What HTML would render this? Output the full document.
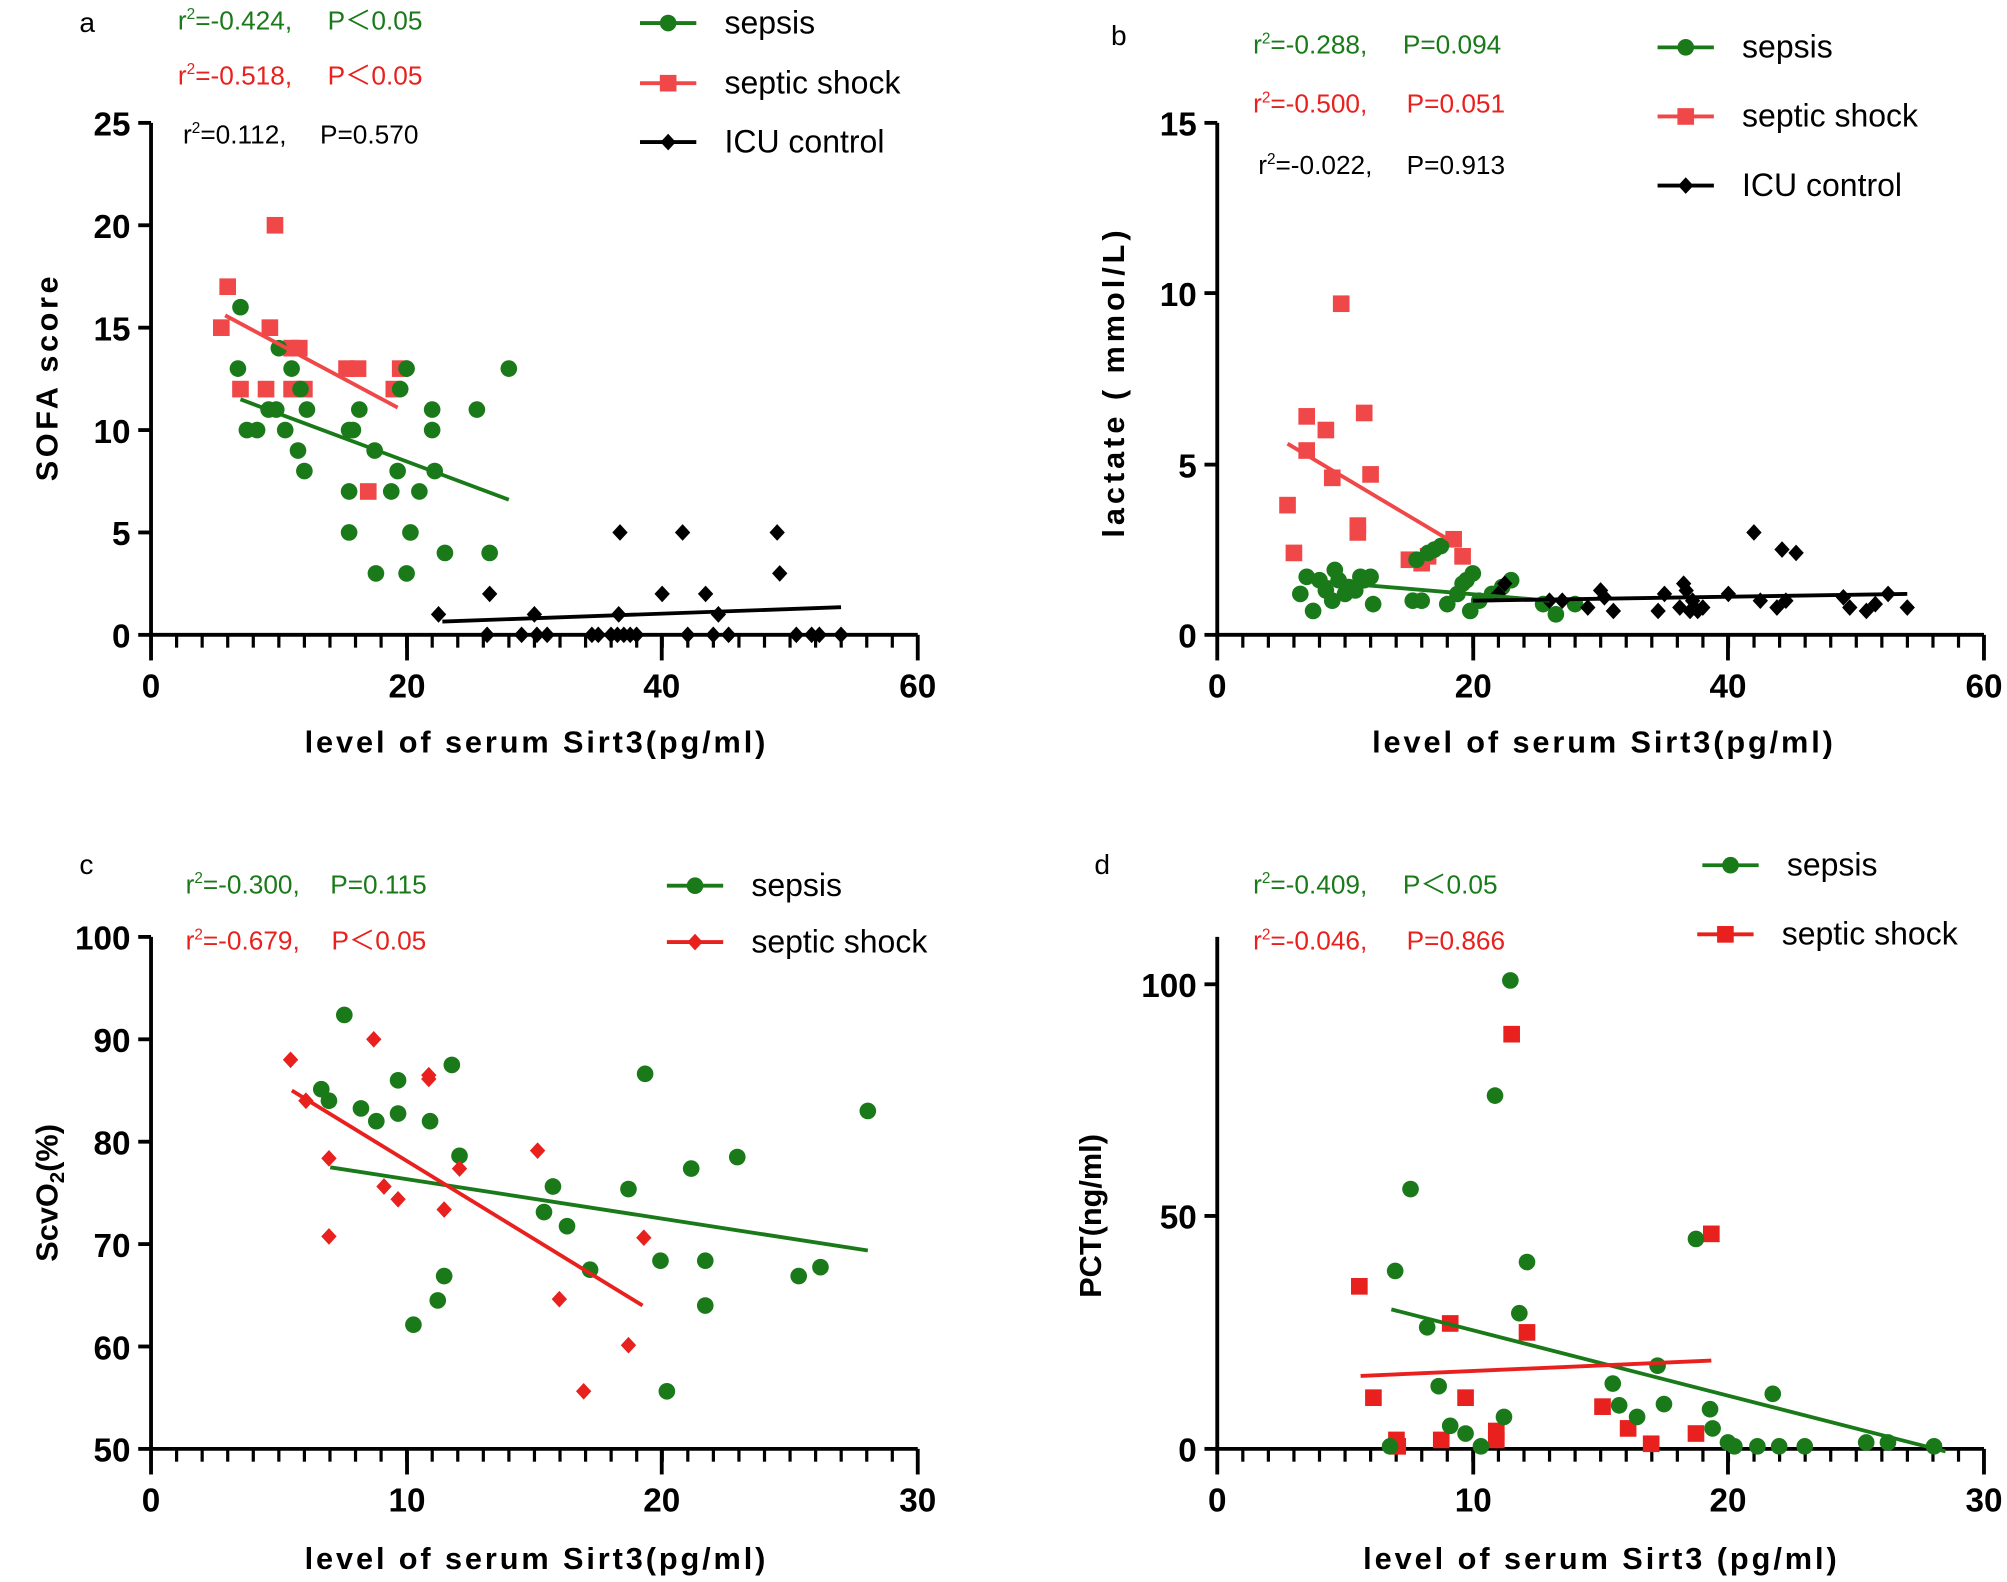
<!DOCTYPE html>
<html><head><meta charset="utf-8"><style>
html,body{margin:0;padding:0;background:#fff;}
svg{display:block;font-family:"Liberation Sans",Arial,sans-serif;}
.tk{font-weight:bold;font-size:26px;}
.tt{font-weight:bold;font-size:24px;}
.lg{font-size:25px;}
.st{font-size:20.5px;}
</style></head><body>
<svg id="s" width="2007" height="1582" viewBox="0 0 1568 1236" preserveAspectRatio="none" xmlns="http://www.w3.org/2000/svg">
<rect width="1568" height="1236" fill="#fff"/>
<g id="g"></g>
<text x="62" y="25" font-size="22">a</text>
<text x="868" y="35" font-size="22">b</text>
<text x="62" y="683" font-size="22">c</text>
<text x="855" y="683" font-size="22">d</text>
<text class="st" x="139" y="23" fill="#1a7a1a">r<tspan dy="-8" font-size="12">2</tspan><tspan dy="8">=-0.424,  </tspan><tspan x="256">P＜0.05</tspan></text>
<text class="st" x="139" y="66" fill="#e8201e">r<tspan dy="-8" font-size="12">2</tspan><tspan dy="8">=-0.518,  </tspan><tspan x="256">P＜0.05</tspan></text>
<text class="st" x="143" y="112" fill="#000">r<tspan dy="-8" font-size="12">2</tspan><tspan dy="8">=0.112,  </tspan><tspan x="250">P=0.570</tspan></text>
<text class="st" x="979" y="42" fill="#1a7a1a">r<tspan dy="-8" font-size="12">2</tspan><tspan dy="8">=-0.288,  </tspan><tspan x="1096">P=0.094</tspan></text>
<text class="st" x="979" y="88" fill="#e8201e">r<tspan dy="-8" font-size="12">2</tspan><tspan dy="8">=-0.500,  </tspan><tspan x="1099">P=0.051</tspan></text>
<text class="st" x="983" y="136" fill="#000">r<tspan dy="-8" font-size="12">2</tspan><tspan dy="8">=-0.022,  </tspan><tspan x="1099">P=0.913</tspan></text>
<text class="st" x="145" y="698" fill="#1a7a1a">r<tspan dy="-8" font-size="12">2</tspan><tspan dy="8">=-0.300,  </tspan><tspan x="258">P=0.115</tspan></text>
<text class="st" x="145" y="742" fill="#e8201e">r<tspan dy="-8" font-size="12">2</tspan><tspan dy="8">=-0.679,  </tspan><tspan x="259">P＜0.05</tspan></text>
<text class="st" x="979" y="698" fill="#1a7a1a">r<tspan dy="-8" font-size="12">2</tspan><tspan dy="8">=-0.409,  </tspan><tspan x="1096">P＜0.05</tspan></text>
<text class="st" x="979" y="742" fill="#e8201e">r<tspan dy="-8" font-size="12">2</tspan><tspan dy="8">=-0.046,  </tspan><tspan x="1099">P=0.866</tspan></text>
<text class="tt" x="418" y="588" text-anchor="middle" textLength="360">level of serum Sirt3(pg/ml)</text>
<text class="tt" x="1252" y="588" text-anchor="middle" textLength="360">level of serum Sirt3(pg/ml)</text>
<text class="tt" x="418" y="1226" text-anchor="middle" textLength="360">level of serum Sirt3(pg/ml)</text>
<text class="tt" x="1250" y="1226" text-anchor="middle" textLength="370">level of serum Sirt3 (pg/ml)</text>
<text class="tt" transform="translate(45,296) rotate(-90)" text-anchor="middle" textLength="160">SOFA score</text>
<text class="tt" transform="translate(878,300) rotate(-90)" text-anchor="middle" textLength="240">lactate ( mmol/L)</text>
<text class="tt" transform="translate(45,932) rotate(-90)" text-anchor="middle">ScvO<tspan font-size="16" dy="5">2</tspan><tspan dy="-5">(%)</tspan></text>
<text class="tt" transform="translate(860,950) rotate(-90)" text-anchor="middle">PCT(ng/ml)</text>
</svg>
<script>
const G=document.getElementById('g');const NS='http://www.w3.org/2000/svg';
function el(t,a,txt){const e=document.createElementNS(NS,t);for(const k in a)e.setAttribute(k,a[k]);if(txt!==undefined)e.textContent=txt;G.appendChild(e);return e;}
const GR='#1a7a1a',RD='#f04848',RD2='#e8201e',BK='#000';
function mk(type,x,y,c){
 if(type==='c')el('circle',{cx:x,cy:y,r:6.5,fill:c});
 else if(type==='s')el('rect',{x:x-6.5,y:y-6.5,width:13,height:13,fill:c});
 else el('polygon',{points:`${x},${y-6.5} ${x+6},${y} ${x},${y+6.5} ${x-6},${y}`,fill:c});
}
function axes(x0,x1,y0,y1,xt,xlab,yt,ylab,minorStep){
 el('line',{x1:x0,y1:y0,x2:x1,y2:y0,stroke:'#000','stroke-width':3});
 el('line',{x1:x0,y1:y0+1.5,x2:x0,y2:y1,stroke:'#000','stroke-width':3});
 xt.forEach((p,i)=>{el('line',{x1:p,y1:y0,x2:p,y2:y0+20,stroke:'#000','stroke-width':3});el('text',{x:p,y:y0+49,'text-anchor':'middle',class:'tk'},xlab[i]);});
 for(let p=x0;p<=x1+0.1;p+=minorStep)el('line',{x1:p,y1:y0,x2:p,y2:y0+10,stroke:'#000','stroke-width':2.5});
 yt.forEach((p,i)=>{el('line',{x1:x0-10,y1:p,x2:x0,y2:p,stroke:'#000','stroke-width':3});el('text',{x:x0-16,y:p+10,'text-anchor':'end',class:'tk'},ylab[i]);});
}
function line(a,b,c,d,col){el('line',{x1:a,y1:b,x2:c,y2:d,stroke:col,'stroke-width':3});}
function leg(x,y,type,col,txt){line(x,y,x+44,y,col);mk(type,x+22,y,col);el('text',{x:x+66,y:y+8,class:'lg'},txt);}
(function(){const X=v=>118+v*9.983,Y=v=>496-v*16;
 axes(118,717,496,96,[118,318,517,717],['0','20','40','60'],[496,416,336,256,176,96],['0','5','10','15','20','25'],19.97);
 const r=[[5.5,15],[6,17],[7,12],[9,12],[9.3,15],[9.7,20],[11,14],[11.6,14],[11,12],[12,12],[15.3,13],[16.2,13],[17,7],[19,12],[19.5,13]];
 const g=[[7,16],[6.8,13],[7.5,10],[8.3,10],[9.2,11],[9.8,11],[10,14],[10.5,10],[11,13],[11.5,9],[11.7,12],[12,8],[12.2,11],[15.5,10],[15.8,10],[15.5,7],[15.5,5],[16.3,11],[17.5,9],[17.6,3],[18.8,7],[19.3,8],[19.5,12],[20,13],[20,3],[20.3,5],[21,7],[22,11],[22,10],[22.2,8],[23,4],[25.5,11],[26.5,4],[28,13]];
 const k=[[22.5,1],[26.5,2],[26.3,0],[29,0],[30,1],[30.2,0],[31,0],[34.5,0],[35,0],[36,0],[36.5,0],[37,0],[36.7,5],[36.6,1],[37.5,0],[38,0],[40,2],[41.6,5],[42,0],[43.4,2],[44,0],[44.4,1],[45.2,0],[49,5],[49.2,3],[50.5,0],[51.7,0],[52.3,0],[54,0]];
 r.forEach(p=>mk('s',X(p[0]),Y(p[1]),RD));g.forEach(p=>mk('c',X(p[0]),Y(p[1]),GR));k.forEach(p=>mk('d',X(p[0]),Y(p[1]),BK));
 line(X(5.8),Y(15.6),X(19.3),Y(11.1),RD);line(X(7),Y(11.5),X(28),Y(6.6),GR);line(X(22.8),Y(0.65),X(54),Y(1.35),BK);
 leg(500,18,'c',GR,'sepsis');leg(500,65,'s',RD,'septic shock');leg(500,111,'d',BK,'ICU control');
})();
(function(){const X=v=>951+v*9.983,Y=v=>496-v*26.67;
 axes(951,1550,496,96,[951,1151,1350,1550],['0','20','40','60'],[496,363,229,96],['0','5','10','15'],19.97);
 const r=[[5.5,3.8],[6,2.4],[7,6.4],[7,5.4],[8.5,6],[9,4.6],[9.7,9.7],[11,3.2],[11,3],[11.5,6.5],[12,4.7],[15,2.2],[16,2.1],[16.5,2.3],[18.5,2.8],[19.2,2.3]];
 const g=[[6.5,1.2],[7,1.7],[7.5,0.7],[8,1.6],[8.5,1.3],[9,1.0],[9.2,1.9],[9.5,1.6],[10,1.2],[10.3,1.4],[10.8,1.3],[11.2,1.7],[11.5,1.6],[12,1.7],[12.2,0.9],[15.3,1.0],[15.6,2.2],[16,1.0],[16.5,2.4],[17,2.5],[17.5,2.6],[18,0.9],[18.8,1.2],[19.2,1.5],[19.5,1.6],[19.8,0.7],[20,1.8],[20.5,1.0],[21.5,1.2],[22.3,1.4],[23,1.6],[25.5,0.9],[26.5,0.6],[28,0.9]];
 const k=[[22,1.2],[22.5,1.5],[26,1.0],[27,1.0],[29,0.8],[30,1.3],[30.3,1.1],[31,0.7],[34.5,0.7],[35,1.2],[36.2,0.8],[36.5,1.5],[36.7,1.3],[37,0.7],[37.2,1.0],[37.6,0.7],[38,0.8],[40,1.2],[42,3.0],[42.5,1.0],[43.8,0.8],[44.2,2.5],[45.3,2.4],[44.5,1.0],[49,1.1],[49.5,0.8],[50.8,0.7],[51.5,0.9],[52.5,1.2],[54,0.8]];
 r.forEach(p=>mk('s',X(p[0]),Y(p[1]),RD));g.forEach(p=>mk('c',X(p[0]),Y(p[1]),GR));k.forEach(p=>mk('d',X(p[0]),Y(p[1]),BK));
 line(X(5.5),Y(5.6),X(18.5),Y(2.7),RD);line(X(7),Y(1.6),X(26),Y(1.0),GR);line(X(20),Y(1.0),X(54),Y(1.2),BK);
 leg(1295,37,'c',GR,'sepsis');leg(1295,91,'s',RD,'septic shock');leg(1295,145,'d',BK,'ICU control');
})();
(function(){
 axes(118,717,1132,732,[118,318,517,717],['0','10','20','30'],[1132,1052,972,892,812,732],['50','60','70','80','90','100'],19.97);
 const g=[[269,793],[251,851],[257,860],[282,866],[294,876],[311,844],[311,870],[323,1035],[336,876],[342,1016],[347,997],[353,832],[359,903],[425,947],[432,927],[443,958],[461,992],[491,929],[504,839],[516,985],[521,1087],[540,913],[551,985],[551,1020],[576,904],[624,997],[641,990],[678,868]];
 const r=[[227,828],[239,860],[257,905],[257,966],[292,812],[300,927],[311,937],[335,840],[335,843],[347,945],[359,913],[420,899],[437,1015],[456,1087],[491,1051],[503,967]];
 g.forEach(p=>mk('c',p[0],p[1],GR));r.forEach(p=>mk('d',p[0],p[1],RD2));
 line(258,912,678,977,GR);line(228,852,502,1020,RD2);
 leg(521,692,'c',GR,'sepsis');leg(521,736,'d',RD2,'septic shock');
})();
(function(){
 axes(951,1550,1132,732,[951,1151,1350,1550],['0','10','20','30'],[1132,950,769],['0','50','100'],19.97);
 const g=[[1180,766],[1168,856],[1102,929],[1090,993],[1193,986],[1187,1026],[1115,1037],[1124,1083],[1133,1114],[1145,1120],[1157,1130],[1175,1107],[1086,1130],[1260,1081],[1265,1098],[1279,1107],[1295,1067],[1300,1097],[1325,968],[1336,1101],[1338,1116],[1350,1127],[1355,1130],[1373,1130],[1385,1089],[1390,1130],[1410,1130],[1458,1127],[1475,1127],[1511,1130]];
 const r=[[1062,1005],[1073,1092],[1091,1125],[1092,1130],[1133,1034],[1145,1092],[1126,1125],[1169,1125],[1169,1118],[1181,808],[1193,1041],[1252,1099],[1272,1116],[1290,1128],[1325,1120],[1337,964]];
 r.forEach(p=>mk('s',p[0],p[1],RD2));g.forEach(p=>mk('c',p[0],p[1],GR));
 line(1087,1023,1520,1134,GR);line(1063,1075,1337,1063,RD2);
 leg(1330,676,'c',GR,'sepsis');leg(1326,730,'s',RD2,'septic shock');
})();
</script>
</body></html>
